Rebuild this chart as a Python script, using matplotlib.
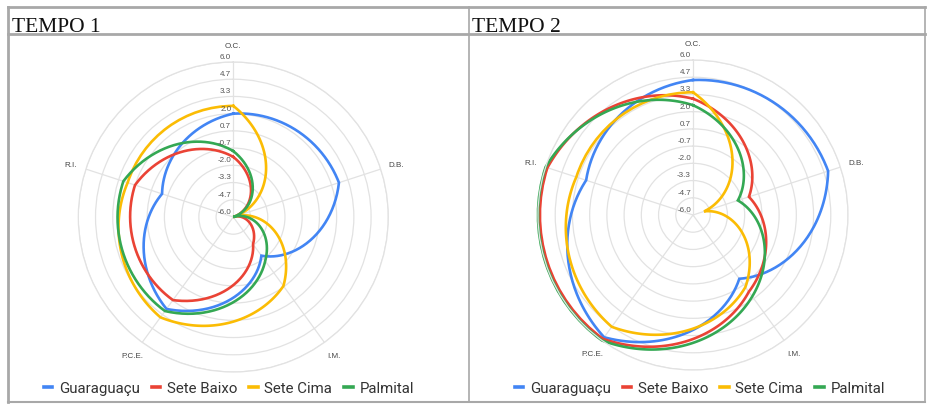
import numpy as np
import matplotlib
matplotlib.use('Agg')
import matplotlib.pyplot as plt
from matplotlib.lines import Line2D

# ---------------- data ----------------
categories = ['O.C.', 'D.B.', 'I.M.', 'P.C.E.', 'R.I.']
series_names = ['Guaraguaçu', 'Sete Baixo', 'Sete Cima', 'Palmital']
colors = ['#4285F4', '#EA4335', '#FBBC04', '#34A853']
tick_values = [-6.0, -4.667, -3.333, -2.0, -0.667, 0.667, 2.0, 3.333, 4.667, 6.0]
tick_labels = ['-6.0', '-4.7', '-3.3', '-2.0', '-0.7', '0.7', '2.0', '3.3', '4.7', '6.0']
panel_titles = ['TEMPO 1', 'TEMPO 2']

tempo1_guaraguacu = [2.0, 2.6, -2.3, 2.8, -0.2]
tempo1_sete_baixo = [-1.35, -6.0, -3.4, 1.95, 2.0]
tempo1_sete_cima = [2.6, -6.0, 0.6, 3.6, 2.6]
tempo1_palmital = [-0.9, -6.0, -1.8, 3.0, 2.95]

tempo2_guaraguacu = [4.45, 5.0, 0.1, 5.7, 2.7]
tempo2_sete_baixo = [3.0, -1.45, 1.35, 5.85, 5.85]
tempo2_sete_cima = [3.5, -5.1, 0.9, 4.7, 3.5]
tempo2_palmital = [2.5, -2.35, 1.8, 6.0, 6.0]

tempo1 = [tempo1_guaraguacu, tempo1_sete_baixo, tempo1_sete_cima, tempo1_palmital]
tempo2 = [tempo2_guaraguacu, tempo2_sete_baixo, tempo2_sete_cima, tempo2_palmital]

# ---------------- figure ----------------
W, H = 927, 406
fig = plt.figure(figsize=(W / 100, H / 100), dpi=100)
fig.patch.set_facecolor('white')

def fx(px):
    return px / W

def fy(py):
    return 1 - py / H

# table borders
border_col = '#a8a8a8'
for (x0, y0, x1, y1, lw) in [
    (8, 8, 925, 8, 2.0),      # top
    (8, 35, 925, 35, 2.0),    # title row separator
    (8, 403, 925, 403, 1.5),  # bottom
    (8, 8, 8, 403, 2.0),      # left
    (469, 8, 469, 403, 1.2),  # middle
    (925, 8, 925, 403, 1.2),  # right
]:
    fig.add_artist(Line2D([fx(x0), fx(x1)], [fy(y0), fy(y1)],
                          transform=fig.transFigure, color=border_col, lw=lw))

n = len(categories)
thetas = [2 * np.pi * i / n for i in range(n)]
thetas_closed = thetas + [2 * np.pi]

R = 155
centers = [(233.3, 218.0), (693.0, 216.0)]
title_x = [12, 472]
legend_cx = [229, 700]

for k, (data, (cx, cy)) in enumerate(zip([tempo1, tempo2], centers)):
    ax = fig.add_axes([fx(cx - R), fy(cy + R), 2 * R / W, 2 * R / H], projection='polar')
    ax.set_theta_offset(np.pi / 2)
    ax.set_theta_direction(-1)
    ax.set_ylim(-6, 6)
    ax.set_yticks(tick_values)
    ax.set_yticklabels([])
    ax.set_xticks(thetas)
    ax.set_xticklabels([])
    ax.grid(True, color='#e2e2e2', lw=0.9)
    ax.spines['polar'].set_color('#e2e2e2')
    ax.spines['polar'].set_linewidth(0.9)
    ax.set_facecolor('none')
    ax.tick_params(length=0)

    # radial labels
    for v, lab in zip(tick_values, tick_labels):
        ax.annotate(lab, xy=(0, v), xytext=(-1.5, 1.5), textcoords='offset points',
                    ha='right', va='bottom', fontsize=5.8, color='#555555',
                    family='Liberation Sans')
    # category labels
    for t, lab in zip(thetas, categories):
        ax.text(t, 7.25, lab, ha='center', va='center', fontsize=5.8,
                color='#444444', family='Liberation Sans', clip_on=False)

    for vals, col in zip(data, colors):
        line, = ax.plot(thetas_closed, list(vals) + [vals[0]], color=col, lw=1.9,
                        clip_on=False, solid_joinstyle='miter')
        line.get_path()._interpolation_steps = 80

    fig.text(fx(title_x[k]), fy(32), panel_titles[k], family='Liberation Serif',
             fontsize=15.5, color='#111111', va='baseline', ha='left')

    handles = [Line2D([0], [0], color=c, lw=2.6) for c in colors]
    fig.legend(handles, series_names, loc='center', bbox_to_anchor=(fx(legend_cx[k]), fy(389)),
               ncol=4, frameon=False, handlelength=0.55, handletextpad=0.45,
               columnspacing=0.8, prop={'family': 'Roboto', 'size': 10.8},
               labelcolor='#333333')

fig.savefig('out.png', dpi=100, facecolor='white')
